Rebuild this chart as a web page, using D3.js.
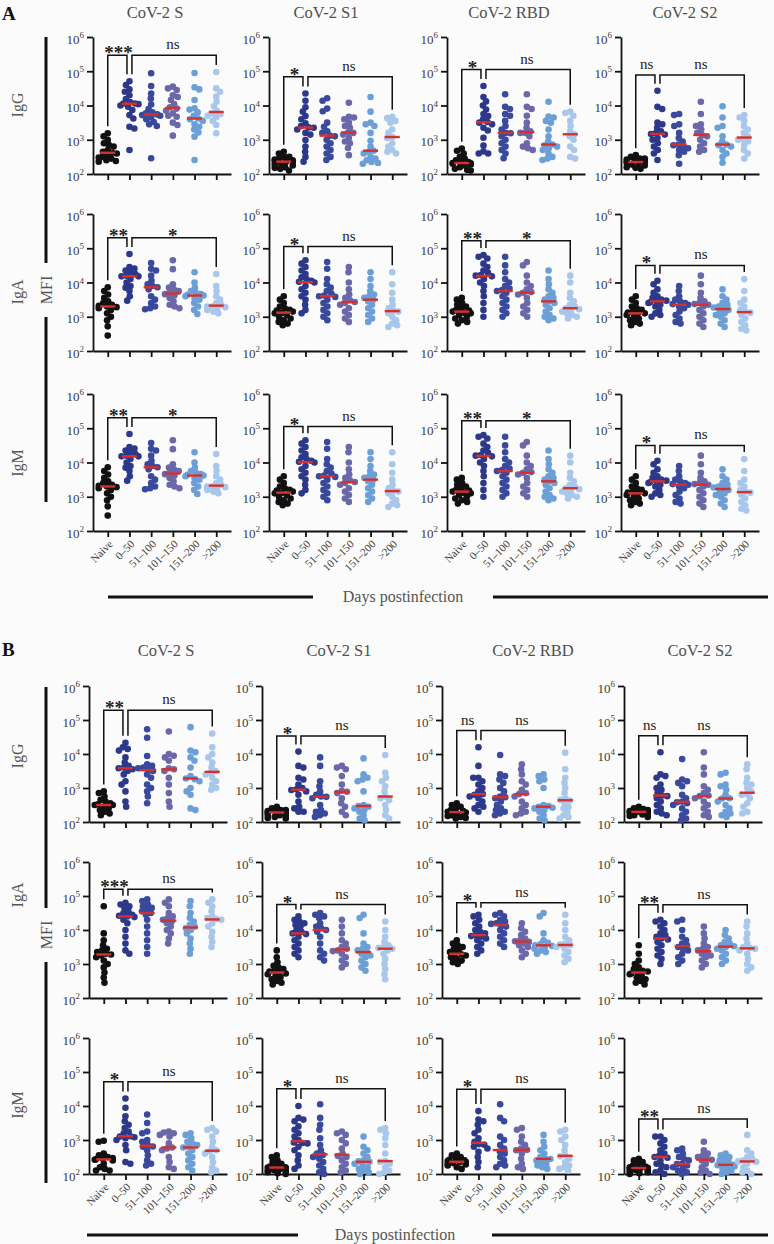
<!DOCTYPE html>
<html><head><meta charset="utf-8">
<script src="https://cdn.jsdelivr.net/npm/d3@7"></script>
<style>
body{margin:0;background:#fbfbfb}
svg{display:block}
</style>
</head><body>
<svg id="c" width="774" height="1244" style="font-family:'Liberation Serif','Times New Roman',Tinos,'DejaVu Serif','Noto Serif',serif"></svg>
<script>
// ---------- categories / labels ----------
const groups = ["Naive","0–50","51–100","101–150","151–200",">200"];
const antigens = ["CoV-2 S","CoV-2 S1","CoV-2 RBD","CoV-2 S2"];
const isotypes = ["IgG","IgA","IgM"];
const tickExponents = [2,3,4,5,6];
const groupColors = ["#111111","#2c3889","#39499c","#6b68aa","#6c9fd6","#a8c7ea"];
const medianColor = "#d7302c";

// ---------- data: log10(MFI) per group ----------
// Panel A
const A_IgG_S = [
 [3.19,3.1,3.0,2.9,2.85,2.8,2.7,2.65,2.62,2.6,2.55,2.5,2.48,2.45,2.4,2.38,2.36],
 [4.71,4.6,4.47,4.4,4.3,4.19,4.1,4.06,4.06,4.04,4.0,3.96,3.87,3.72,3.62,3.38,3.33,2.70],
 [4.94,4.57,4.35,4.2,4.03,3.9,3.8,3.77,3.74,3.72,3.7,3.65,3.6,3.52,3.45,3.40,2.46],
 [4.55,4.5,4.45,4.3,4.25,4.16,4.04,3.95,3.91,3.85,3.77,3.7,3.67,3.5,3.43,3.12],
 [4.95,4.53,4.47,4.16,3.92,3.88,3.8,3.7,3.62,3.6,3.55,3.45,3.38,3.3,3.21,3.09,2.41],
 [4.98,4.5,4.4,4.26,4.11,3.98,3.85,3.77,3.75,3.7,3.66,3.55,3.43,3.19]
];
const A_IgG_S1 = [
 [2.65,2.6,2.5,2.5,2.45,2.42,2.4,2.38,2.36,2.35,2.3,2.28,2.25,2.2,2.18,2.15,2.1],
 [4.35,4.14,3.95,3.82,3.69,3.6,3.48,3.4,3.36,3.35,3.3,3.2,3.15,2.99,2.8,2.65,2.5,2.36],
 [4.21,4.14,3.91,3.83,3.5,3.38,3.25,3.2,3.12,3.1,3.0,2.9,2.8,2.7,2.6,2.5,2.41],
 [4.08,3.67,3.65,3.6,3.5,3.4,3.35,3.21,3.2,3.15,3.05,2.95,2.9,2.76,2.55],
 [4.25,3.82,3.5,3.45,3.4,3.2,2.97,2.8,2.68,2.65,2.6,2.5,2.45,2.4,2.35,2.32,2.3],
 [3.67,3.63,3.55,3.5,3.3,3.2,3.08,3.05,2.9,2.8,2.7,2.65,2.6]
];
const A_IgG_RBD = [
 [2.74,2.68,2.6,2.5,2.45,2.4,2.35,2.35,2.32,2.31,2.3,2.28,2.25,2.2,2.15,2.12,2.1],
 [4.57,4.25,4.12,4.0,3.88,3.75,3.69,3.6,3.52,3.5,3.45,3.35,3.27,3.06,2.83,2.66,2.6,2.6],
 [4.33,3.96,3.9,3.75,3.7,3.55,3.4,3.3,3.2,3.19,3.1,3.0,2.9,2.8,2.7,2.6,2.46],
 [4.33,3.96,3.9,3.7,3.5,3.35,3.25,3.2,3.2,3.1,2.9,2.8,2.75,2.7],
 [4.11,3.68,3.65,3.55,3.5,3.3,3.1,2.95,2.86,2.84,2.8,2.75,2.7,2.6,2.5,2.45,2.41],
 [3.82,3.78,3.7,3.55,3.4,3.25,3.16,3.1,3.0,2.8,2.7,2.5,2.45]
];
const A_IgG_S2 = [
 [2.55,2.5,2.45,2.45,2.42,2.4,2.38,2.36,2.34,2.33,2.3,2.28,2.25,2.2,2.18,2.15],
 [4.43,3.96,3.9,3.5,3.45,3.35,3.25,3.2,3.17,3.15,3.05,3.0,2.9,2.8,2.7,2.6,2.41],
 [3.75,3.72,3.45,3.4,3.2,3.05,2.95,2.86,2.84,2.8,2.75,2.7,2.65,2.55,2.3],
 [4.11,3.75,3.45,3.4,3.3,3.2,3.14,3.1,3.0,2.9,2.8,2.7,2.65],
 [3.98,3.65,3.4,3.35,3.1,2.95,2.86,2.84,2.8,2.7,2.6,2.5,2.33],
 [3.72,3.65,3.55,3.4,3.3,3.2,3.1,3.03,3.0,2.95,2.85,2.7,2.6,2.45]
];
const A_IgA_S = [
 [3.86,3.75,3.65,3.55,3.45,3.4,3.35,3.32,3.3,3.28,3.25,3.2,3.1,3.0,2.9,2.72,2.45],
 [4.83,4.45,4.41,4.35,4.3,4.25,4.2,4.18,4.18,4.1,4.0,3.9,3.85,3.75,3.6,3.47],
 [4.57,4.4,4.35,4.2,4.05,3.95,3.9,3.86,3.8,3.6,3.5,3.4,3.3,3.25,3.22],
 [4.65,4.39,3.95,3.85,3.8,3.75,3.7,3.66,3.62,3.55,3.45,3.35,3.3,3.25],
 [4.3,4.0,3.85,3.75,3.7,3.66,3.64,3.62,3.6,3.55,3.5,3.4,3.3,3.2,3.08],
 [4.25,3.9,3.75,3.6,3.5,3.4,3.35,3.3,3.3,3.28,3.25,3.2,3.15,3.1]
];
const A_IgA_S1 = [
 [3.6,3.5,3.4,3.3,3.25,3.2,3.18,3.15,3.12,3.1,3.05,3.0,2.95,2.9,2.85,2.8,2.75],
 [4.65,4.55,4.45,4.35,4.25,4.15,4.1,4.05,4.02,4.0,3.9,3.8,3.7,3.6,3.5,3.35,3.2,3.1],
 [4.6,4.4,4.1,3.95,3.85,3.75,3.68,3.62,3.6,3.58,3.5,3.4,3.3,3.2,3.1,3.0,2.9],
 [4.45,4.3,4.0,3.8,3.65,3.55,3.48,3.43,3.4,3.35,3.25,3.15,3.05,2.95,2.85],
 [4.3,4.1,3.9,3.75,3.65,3.6,3.55,3.5,3.45,3.35,3.25,3.15,3.05,2.95,2.85],
 [4.3,3.95,3.7,3.5,3.35,3.25,3.18,3.15,3.1,3.0,2.9,2.8,2.75,2.7]
];
const A_IgA_RBD = [
 [3.55,3.5,3.4,3.35,3.3,3.25,3.2,3.18,3.15,3.12,3.1,3.05,3.0,2.95,2.9,2.85,2.8],
 [4.8,4.75,4.7,4.55,4.45,4.35,4.28,4.22,4.2,4.18,4.1,4.0,3.9,3.75,3.6,3.4,3.2,3.0],
 [4.75,4.5,4.3,4.1,4.0,3.9,3.82,3.78,3.75,3.7,3.6,3.5,3.4,3.3,3.2,3.1,3.0],
 [4.6,4.5,4.2,4.0,3.9,3.8,3.72,3.7,3.65,3.55,3.4,3.3,3.2,3.1,3.0],
 [4.35,4.1,3.95,3.8,3.7,3.6,3.55,3.5,3.45,3.4,3.35,3.25,3.15,3.05,3.0,2.95,2.9],
 [4.2,4.0,3.7,3.55,3.45,3.35,3.3,3.25,3.22,3.2,3.15,3.1,3.05,3.0,2.95]
];
const A_IgA_S2 = [
 [3.6,3.5,3.4,3.3,3.25,3.2,3.15,3.12,3.1,3.1,3.05,3.0,2.95,2.9,2.85,2.8,2.75],
 [4.05,3.95,3.8,3.7,3.6,3.55,3.5,3.47,3.45,3.42,3.4,3.35,3.3,3.2,3.1,3.05,3.0],
 [3.9,3.75,3.6,3.5,3.45,3.4,3.37,3.35,3.3,3.25,3.15,3.05,2.95,2.85,2.8],
 [4.2,3.95,3.7,3.55,3.45,3.4,3.37,3.35,3.3,3.2,3.1,3.0,2.9,2.8,2.7],
 [3.8,3.6,3.5,3.4,3.35,3.3,3.27,3.25,3.2,3.15,3.1,3.05,3.0,2.9,2.8,2.7],
 [4.1,3.75,3.5,3.4,3.3,3.2,3.15,3.12,3.05,2.95,2.85,2.75,2.65,2.6]
];
// IgM row of panel A repeats the IgA measurements in the source figure
const A_IgM_S = A_IgA_S;
const A_IgM_S1 = A_IgA_S1;
const A_IgM_RBD = A_IgA_RBD;
const A_IgM_S2 = A_IgA_S2;

// Panel B
const B_IgG_S = [
 [2.9,2.85,2.75,2.65,2.6,2.55,2.52,2.5,2.5,2.45,2.4,2.35,2.3,2.25,2.2],
 [4.33,4.2,4.15,4.1,3.9,3.75,3.65,3.6,3.58,3.55,3.5,3.4,3.2,3.1,2.9,2.6,2.45],
 [4.73,4.48,3.94,3.7,3.65,3.6,3.58,3.55,3.5,3.4,3.3,3.1,3.0,2.9,2.75,2.55],
 [4.66,4.0,3.95,3.9,3.8,3.58,3.55,3.5,3.3,3.1,2.85,2.6,2.45],
 [4.79,4.1,4.05,3.9,3.8,3.6,3.35,3.28,3.26,3.2,3.0,2.9,2.8,2.4,2.35],
 [4.6,4.2,4.0,3.9,3.75,3.6,3.5,3.45,3.4,3.3,3.2,3.1,3.0,2.95]
];
const B_IgG_S1 = [
 [2.45,2.4,2.35,2.35,2.32,2.3,2.3,2.28,2.25,2.22,2.2,2.18,2.15,2.12,2.1],
 [4.07,3.65,3.6,3.3,3.25,3.1,3.0,2.96,2.94,2.9,2.8,2.6,2.45,2.4,2.3,2.3],
 [3.9,3.65,3.2,3.05,2.9,2.8,2.75,2.74,2.7,2.5,2.35,2.3,2.25,2.2,2.15],
 [3.65,3.6,3.55,3.35,3.1,2.92,2.89,2.85,2.7,2.55,2.45,2.3,2.2],
 [3.87,3.4,3.3,3.25,3.2,2.9,2.5,2.47,2.45,2.4,2.35,2.3,2.2,2.1,2.05],
 [3.97,3.45,3.3,3.2,3.05,2.9,2.75,2.7,2.65,2.5,2.35,2.2,2.1]
];
const B_IgG_RBD = [
 [2.55,2.5,2.45,2.4,2.35,2.32,2.3,2.28,2.25,2.2,2.18,2.15,2.12,2.1],
 [4.2,3.65,3.3,3.3,3.2,3.1,3.0,2.9,2.82,2.8,2.75,2.7,2.6,2.5,2.45,2.4,2.3],
 [3.97,3.4,3.35,3.25,3.15,3.0,2.9,2.75,2.73,2.7,2.6,2.5,2.4,2.35,2.3,2.25,2.2],
 [3.7,3.55,3.4,3.2,3.1,2.95,2.85,2.82,2.75,2.6,2.5,2.4,2.3,2.25,2.2],
 [3.4,3.35,3.25,3.2,3.0,2.5,2.47,2.45,2.42,2.4,2.35,2.3,2.2,2.1,2.05],
 [4.04,3.55,3.3,3.15,3.0,2.85,2.7,2.65,2.63,2.55,2.45,2.4,2.3,2.2,2.15,2.1]
];
const B_IgG_S2 = [
 [2.45,2.4,2.38,2.35,2.32,2.3,2.3,2.28,2.25,2.22,2.2,2.18,2.15],
 [4.05,3.4,3.35,3.3,3.1,3.0,2.95,2.85,2.78,2.76,2.7,2.6,2.5,2.4,2.3,2.25,2.2],
 [3.85,3.25,3.2,3.15,3.05,2.8,2.7,2.6,2.58,2.55,2.5,2.4,2.3,2.2,2.1,2.05],
 [4.05,3.6,3.4,3.05,2.95,2.85,2.78,2.76,2.7,2.6,2.5,2.4,2.3,2.2,2.15],
 [3.45,3.4,3.1,3.05,2.95,2.8,2.7,2.69,2.6,2.5,2.4,2.3,2.25,2.2,2.15],
 [3.7,3.55,3.3,3.15,3.1,3.0,2.9,2.82,2.8,2.7,2.55,2.45,2.3,2.25]
];
const B_IgA_S = [
 [4.7,3.9,3.7,3.55,3.45,3.4,3.35,3.3,3.28,3.25,3.2,3.1,3.0,2.9,2.75,2.6,2.45],
 [4.8,4.75,4.7,4.65,4.55,4.5,4.45,4.42,4.4,4.38,4.3,4.2,4.0,3.8,3.6,3.4,3.3],
 [4.9,4.85,4.75,4.7,4.65,4.6,4.55,4.5,4.45,4.3,4.1,3.9,3.7,3.5,3.3],
 [4.9,4.8,4.7,4.5,4.4,4.35,4.3,4.25,4.2,4.1,4.0,3.9,3.75,3.6],
 [4.85,4.7,4.5,4.35,4.25,4.15,4.1,4.05,4.0,3.9,3.75,3.6,3.45,3.3],
 [4.9,4.8,4.7,4.55,4.4,4.35,4.32,4.3,4.2,4.1,3.95,3.8,3.65,3.5]
];
const B_IgA_S1 = [
 [3.4,3.2,3.05,2.95,2.9,2.85,2.8,2.78,2.75,2.72,2.7,2.65,2.6,2.55,2.5,2.45,2.4],
 [4.4,4.3,4.25,4.2,4.15,4.1,4.0,3.95,3.9,3.88,3.8,3.7,3.6,3.5,3.4,3.3,3.2],
 [4.5,4.45,4.4,4.35,4.2,4.1,4.05,4.0,3.95,3.8,3.6,3.4,3.3,3.2,3.1],
 [4.3,4.1,3.9,3.7,3.6,3.5,3.45,3.4,3.38,3.3,3.2,3.1,3.0,2.9],
 [4.45,4.35,3.9,3.6,3.5,3.45,3.4,3.35,3.3,3.25,3.2,3.1,3.0,2.9,2.8],
 [4.25,4.0,3.8,3.65,3.55,3.5,3.47,3.45,3.4,3.3,3.15,3.0,2.85,2.7,2.55]
];
const B_IgA_RBD = [
 [3.7,3.6,3.55,3.5,3.45,3.4,3.35,3.3,3.28,3.25,3.2,3.15,3.1,3.05,3.0],
 [4.45,4.4,4.3,4.2,4.1,4.0,3.95,3.9,3.85,3.82,3.8,3.75,3.7,3.6,3.5,3.4,3.3],
 [4.5,4.45,4.4,4.3,4.25,4.2,4.18,4.15,4.1,4.0,3.9,3.8,3.7,3.6,3.5],
 [4.2,4.05,3.95,3.85,3.75,3.7,3.67,3.65,3.6,3.55,3.5,3.4,3.3,3.2],
 [4.5,4.4,3.9,3.7,3.62,3.58,3.55,3.53,3.5,3.45,3.4,3.35,3.3],
 [4.45,4.2,4.0,3.8,3.7,3.6,3.57,3.55,3.5,3.45,3.35,3.25,3.15,3.05]
];
const B_IgA_S2 = [
 [3.55,3.3,3.1,3.0,2.9,2.85,2.8,2.78,2.75,2.72,2.7,2.65,2.6,2.55,2.5,2.45,2.4],
 [4.3,4.25,4.2,4.1,4.0,3.9,3.85,3.8,3.75,3.72,3.65,3.55,3.45,3.35,3.25,3.15,3.0],
 [4.3,4.25,4.0,3.8,3.7,3.6,3.55,3.5,3.45,3.4,3.3,3.2,3.1,3.0],
 [4.1,3.9,3.75,3.6,3.5,3.45,3.4,3.35,3.3,3.25,3.2,3.1,3.0,2.9],
 [4.0,3.85,3.75,3.65,3.6,3.55,3.52,3.5,3.45,3.4,3.3,3.2,3.1,3.0],
 [4.25,4.1,3.9,3.75,3.6,3.5,3.47,3.45,3.4,3.3,3.15,3.0,2.9,2.8]
];
const B_IgM_S = [
 [2.98,2.95,2.6,2.55,2.5,2.47,2.45,2.43,2.42,2.4,2.3,2.2,2.15,2.1,2.1],
 [4.22,3.95,3.7,3.55,3.45,3.35,3.25,3.2,3.11,3.1,3.08,3.05,3.0,2.85,2.7,2.35,2.3],
 [3.75,3.5,3.25,3.2,3.0,2.95,2.85,2.81,2.8,2.7,2.55,2.4,2.3,2.25],
 [3.25,3.22,3.2,3.15,3.1,2.9,2.78,2.75,2.7,2.5,2.35,2.2,2.15],
 [3.2,3.15,3.05,2.95,2.9,2.85,2.8,2.78,2.7,2.6,2.5,2.4,2.3,2.2,2.1],
 [3.35,3.3,3.25,3.1,2.95,2.8,2.7,2.67,2.6,2.5,2.35,2.2,2.1,2.05]
];
const B_IgM_S1 = [
 [2.55,2.5,2.4,2.35,2.3,2.25,2.22,2.2,2.19,2.18,2.15,2.12,2.1,2.08,2.05,2.02,2.0],
 [4.0,3.65,3.6,3.55,3.4,3.3,3.2,3.1,3.0,2.93,2.91,2.9,2.8,2.7,2.55,2.4,2.25,2.15],
 [4.05,3.65,3.45,3.3,3.05,2.85,2.7,2.6,2.56,2.5,2.45,2.35,2.25,2.15,2.05,2.0],
 [3.25,3.2,3.15,3.0,2.9,2.75,2.6,2.53,2.5,2.4,2.3,2.2,2.1,2.05],
 [3.1,2.8,2.7,2.6,2.5,2.4,2.37,2.36,2.3,2.25,2.2,2.15,2.1,2.05,2.0],
 [3.35,3.3,3.2,3.05,2.85,2.6,2.38,2.36,2.3,2.2,2.1,2.05,2.0]
];
const B_IgM_RBD = [
 [2.6,2.55,2.5,2.45,2.42,2.4,2.38,2.36,2.35,2.32,2.3,2.28,2.25,2.2,2.15],
 [3.85,3.6,3.55,3.45,3.3,3.2,3.05,2.95,2.88,2.86,2.8,2.75,2.65,2.5,2.35,2.2],
 [4.05,3.65,3.55,3.1,3.0,2.85,2.75,2.66,2.6,2.5,2.4,2.3,2.25,2.2],
 [3.35,3.3,3.1,2.95,2.85,2.75,2.71,2.7,2.6,2.45,2.3,2.2,2.15],
 [3.15,2.95,2.8,2.7,2.6,2.5,2.45,2.44,2.4,2.35,2.3,2.25,2.2,2.15],
 [3.3,3.25,3.1,3.0,2.85,2.7,2.55,2.52,2.45,2.35,2.25,2.2,2.15,2.1]
];
const B_IgM_S2 = [
 [2.45,2.4,2.35,2.3,2.25,2.22,2.2,2.18,2.17,2.15,2.12,2.1,2.08,2.05,2.02,2.0],
 [3.1,3.1,3.0,2.9,2.8,2.7,2.6,2.55,2.5,2.48,2.4,2.3,2.25,2.2,2.1,2.05,2.0],
 [2.75,2.7,2.6,2.5,2.45,2.4,2.3,2.29,2.25,2.2,2.15,2.1,2.05,2.0],
 [2.95,2.7,2.6,2.55,2.5,2.45,2.42,2.4,2.3,2.2,2.1,2.05,2.0],
 [2.6,2.55,2.5,2.45,2.4,2.35,2.3,2.27,2.26,2.22,2.2,2.15,2.1,2.05,2.0],
 [3.15,2.7,2.6,2.5,2.45,2.4,2.37,2.36,2.3,2.2,2.1,2.05,2.0]
];

// significance labels [first bracket, second bracket] per row/antigen
const A_sig = [
 [["***","ns"],["*","ns"],["*","ns"],["ns","ns"]],
 [["**","*"],["*","ns"],["**","*"],["*","ns"]],
 [["**","*"],["*","ns"],["**","*"],["*","ns"]]
];
const B_sig = [
 [["**","ns"],["*","ns"],["ns","ns"],["ns","ns"]],
 [["***","ns"],["*","ns"],["*","ns"],["**","ns"]],
 [["*","ns"],["*","ns"],["*","ns"],["**","ns"]]
];
// bracket heights, log10(MFI)
const A_bracket = [[5.47,4.84,5.05,4.89],[5.31,5.05,5.22,4.5],[5.31,5.05,5.22,4.5]];
const B_bracket = [[5.29,4.53,4.69,4.54],[5.2,4.75,4.8,4.74],[4.71,4.51,4.49,3.62]];

// ---------- layout ----------
const panels = [
 {letter:"A", letterY:20, titleY:18, titleX:[155,326,509,685],
  tops:[37,214,394], h:137, cols:[93,269,447,621],
  data:[[A_IgG_S,A_IgG_S1,A_IgG_RBD,A_IgG_S2],[A_IgA_S,A_IgA_S1,A_IgA_RBD,A_IgA_S2],[A_IgM_S,A_IgM_S1,A_IgM_RBD,A_IgM_S2]],
  sig:A_sig, br:A_bracket, vline:[37,502], mfiY:290, rowLabelY:[105,292,463],
  daysY:597, leftLine:[108,313], rightLine:[493,768]},
 {letter:"B", letterY:656, titleY:656, titleX:[166,339,533,700],
  tops:[686,862,1038], h:136, cols:[89,262,442,624],
  data:[[B_IgG_S,B_IgG_S1,B_IgG_RBD,B_IgG_S2],[B_IgA_S,B_IgA_S1,B_IgA_RBD,B_IgA_S2],[B_IgM_S,B_IgM_S1,B_IgM_RBD,B_IgM_S2]],
  sig:B_sig, br:B_bracket, vline:[687,1183], mfiY:935, rowLabelY:[756,895,1105],
  daysY:1235, leftLine:[87,298], rightLine:[492,768]}
];

const FONT = "'Liberation Serif','Times New Roman',Tinos,'DejaVu Serif','Noto Serif',serif";
const svg = d3.select("#c");
const R = 3.3;

function swarm(vals, y){
  const pts = vals.map(v=>({v, cy:y(Math.pow(10,v))})).sort((a,b)=>a.cy-b.cy);
  const placed=[]; const D=2*R*0.78;
  pts.forEach((p,i)=>{
    const cands=[0], ints=[];
    placed.forEach(q=>{
      const dy=Math.abs(q.cy-p.cy);
      if(dy<D){const w=Math.sqrt(D*D-dy*dy); ints.push([q.dx-w,q.dx+w]); cands.push(q.dx-w-0.01,q.dx+w+0.01);}
    });
    const ok=cands.filter(c=>ints.every(([a,b])=>c<=a||c>=b))
      .sort((a,b)=>(Math.abs(a)-Math.abs(b)) || (i%2? a-b : b-a));
    let dx = ok.length?ok[0]:0;
    if(Math.abs(dx)>9) dx=Math.sign(dx)*9;
    p.dx=dx; placed.push(p);
  });
  return pts;
}

function txt(sel){ return sel.attr("font-family",FONT); }

function plot(P, r, c){
  const x0=P.cols[c], top=P.tops[r], bottom=top+P.h;
  const vals=P.data[r][c];
  const g=svg.append("g");
  const y=d3.scaleLog().domain([1e2,1e6]).range([bottom,top]).clamp(true);
  const x=d3.scalePoint().domain(groups).range([x0,x0+138]).padding(0.68);

  // y axis
  const ya=g.append("g").attr("transform",`translate(${x0},0)`)
    .call(d3.axisLeft(y).tickValues(tickExponents.map(e=>Math.pow(10,e))).tickSize(6).tickSizeOuter(0).tickFormat(()=>""));
  ya.selectAll("path,line").attr("stroke","#111").attr("stroke-width",1.8);
  tickExponents.forEach(e=>{
    const t=txt(g.append("text")).attr("x",x0-9).attr("y",y(Math.pow(10,e))+6.5)
      .attr("text-anchor","end").attr("font-size",13).attr("fill","#3c3c3c");
    t.append("tspan").text("10");
    t.append("tspan").attr("dy",-5.5).attr("font-size",9).text(e);
  });
  // x axis
  const xa=g.append("g").attr("transform",`translate(0,${bottom})`)
    .call(d3.axisBottom(x).tickSize(6).tickSizeOuter(0).tickFormat(""));
  xa.selectAll("path,line").attr("stroke","#111").attr("stroke-width",1.8);
  if(r===2){
    groups.forEach(gr=>{
      txt(g.append("text")).attr("transform",`translate(${x(gr)+3},${bottom+11}) rotate(-45)`)
        .attr("text-anchor","end").attr("dy","0.35em").attr("font-size",11).attr("fill","#3c3c3c").text(gr);
    });
  }
  // dots
  vals.forEach((gv,gi)=>{
    const cx=x(groups[gi]);
    const pts=swarm(gv,y);
    g.selectAll(null).data(pts).enter().append("circle")
      .attr("cx",d=>cx+d.dx).attr("cy",d=>d.cy).attr("r",R).attr("fill",groupColors[gi]);
  });
  vals.forEach((gv,gi)=>{
    const cx=x(groups[gi]); const m=d3.median(gv);
    g.append("line").attr("x1",cx-7.5).attr("x2",cx+7.5).attr("y1",y(Math.pow(10,m))).attr("y2",y(Math.pow(10,m)))
      .attr("stroke",medianColor).attr("stroke-width",2.4);
  });
  // brackets
  const by=y(Math.pow(10,P.br[r][c]));
  const topOf=gi=>y(Math.pow(10,d3.max(vals[gi])))-7;
  const xl=x(groups[0]), xm=x(groups[1]), xr=x(groups[5]);
  g.append("path").attr("fill","none").attr("stroke","#111").attr("stroke-width",1.5)
    .attr("d",`M${xl},${topOf(0)}V${by}H${xm-2.5}V${topOf(1)}M${xm+2.5},${topOf(1)}V${by}H${xr}V${topOf(5)}`);
  const sg=P.sig[r][c];
  [[ (xl+xm)/2, sg[0]],[(xm+xr)/2, sg[1]]].forEach(([cx,s])=>{
    const isStar=s.indexOf("*")>=0;
    txt(g.append("text")).attr("x",cx).attr("y",isStar?by+4:by-6).attr("text-anchor","middle")
      .attr("font-size",isStar?19:15).attr("font-weight",isStar?"bold":"normal").attr("fill","#222")
      .text(s);
  });
}

panels.forEach(P=>{
  txt(svg.append("text")).attr("x",2).attr("y",P.letterY).attr("font-size",19).attr("font-weight","bold").attr("fill","#111").text(P.letter);
  antigens.forEach((a,c)=>{
    txt(svg.append("text")).attr("x",P.titleX[c]).attr("y",P.titleY).attr("text-anchor","middle")
      .attr("font-size",16.5).attr("fill","#505050").text(a);
  });
  for(let r=0;r<3;r++) for(let c=0;c<4;c++) plot(P,r,c);
  // left labels
  isotypes.forEach((iso,r)=>{
    txt(svg.append("text")).attr("transform",`translate(23,${P.rowLabelY[r]}) rotate(-90)`)
      .attr("text-anchor","middle").attr("font-size",16).attr("fill","#555").text(iso);
  });
  svg.append("line").attr("x1",46).attr("x2",46).attr("y1",P.vline[0]).attr("y2",P.mfiY-27).attr("stroke","#111").attr("stroke-width",3);
  svg.append("line").attr("x1",46).attr("x2",46).attr("y1",P.mfiY+27).attr("y2",P.vline[1]).attr("stroke","#111").attr("stroke-width",3);
  txt(svg.append("text")).attr("transform",`translate(52,${P.mfiY}) rotate(-90)`)
    .attr("text-anchor","middle").attr("font-size",16).attr("fill","#555").text("MFI");
  // bottom
  svg.append("line").attr("x1",P.leftLine[0]).attr("x2",P.leftLine[1]).attr("y1",P.daysY).attr("y2",P.daysY).attr("stroke","#111").attr("stroke-width",3);
  svg.append("line").attr("x1",P.rightLine[0]).attr("x2",P.rightLine[1]).attr("y1",P.daysY).attr("y2",P.daysY).attr("stroke","#111").attr("stroke-width",3);
  txt(svg.append("text")).attr("x",(P.leftLine[1]+P.rightLine[0])/2).attr("y",P.daysY+5).attr("text-anchor","middle")
    .attr("font-size",16).attr("fill","#555").text("Days postinfection");
});
</script>
</body></html>
